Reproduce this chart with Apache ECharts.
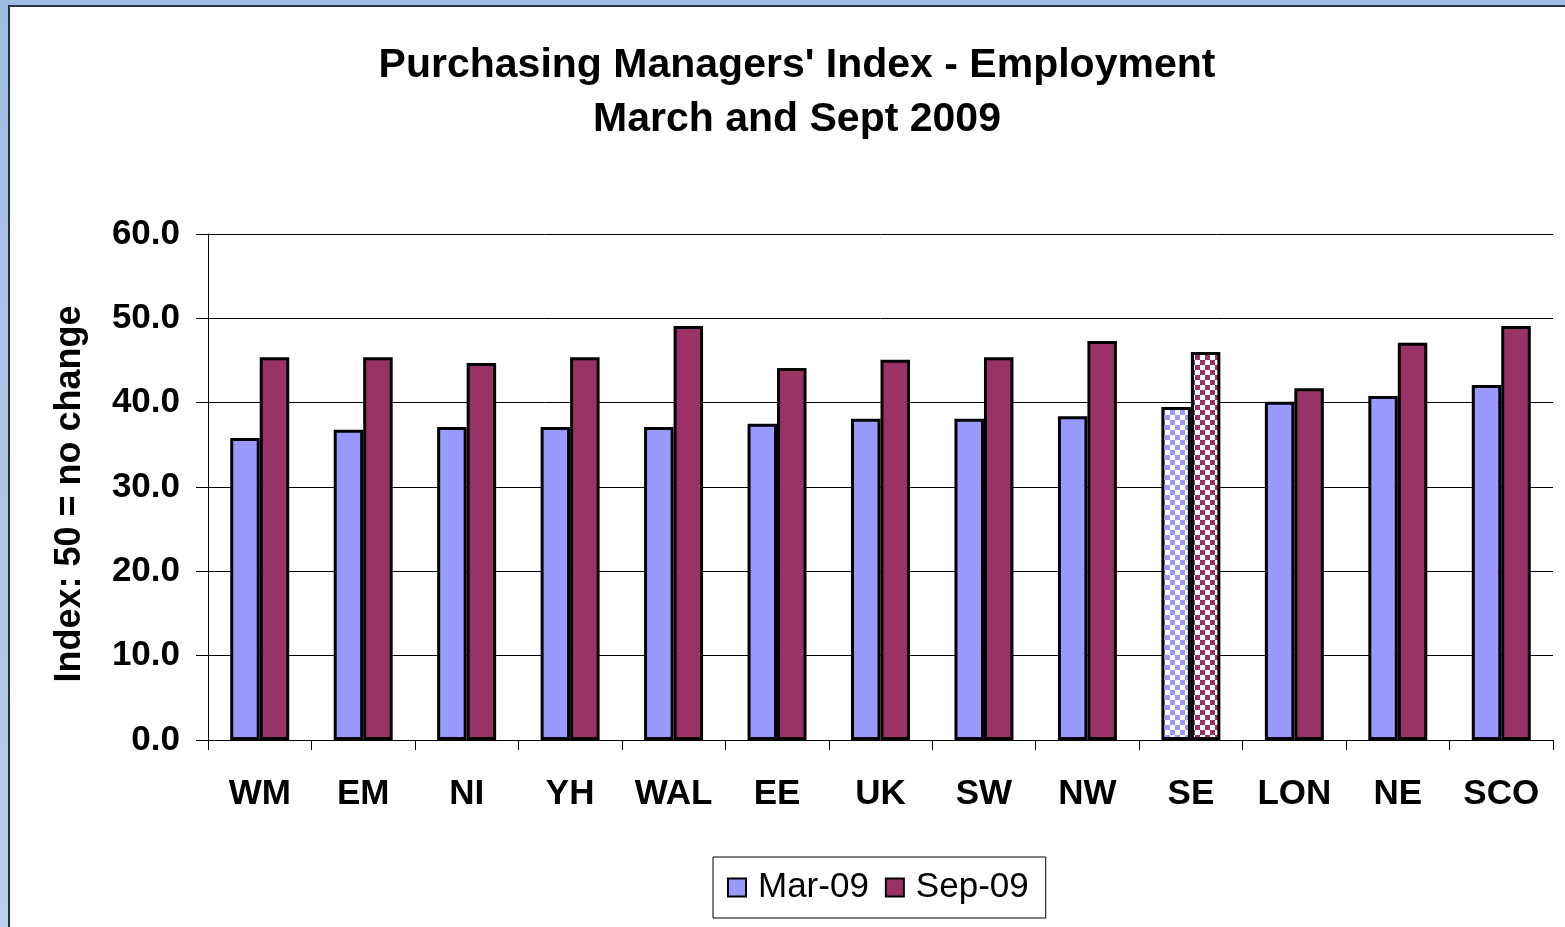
<!DOCTYPE html>
<html>
<head>
<meta charset="utf-8">
<script src="https://cdn.jsdelivr.net/npm/echarts@6/dist/echarts.min.js"></script>
<style>
  html, body { margin: 0; padding: 0; width: 1565px; height: 927px; overflow: hidden;
    background: linear-gradient(#9dbde3, #b9cfea); }
  #frame { position: absolute; left: 8px; top: 5px; width: 1570px; height: 940px;
    background: #fff; border: 2px solid #2c3340; }
  #main { position: absolute; left: 0; top: 0; width: 1565px; height: 927px; }
</style>
</head>
<body>
<div id="frame"></div>
<div id="main"></div>
<script>
// regions, left to right
var regions = ['WM', 'EM', 'NI', 'YH', 'WAL', 'EE', 'UK', 'SW', 'NW', 'SE', 'LON', 'NE', 'SCO'];
var mar09 = [35.8, 36.8, 37.1, 37.1, 37.1, 37.5, 38.1, 38.1, 38.4, 39.5, 40.1, 40.8, 42.1];
var sep09 = [45.4, 45.4, 44.7, 45.4, 49.1, 44.1, 45.1, 45.4, 47.3, 46.0, 41.7, 47.1, 49.1];
var yTicks = [0, 10, 20, 30, 40, 50, 60];
var hatched = 'SE';

// checker fill for the highlighted region
function checker(col) {
	var c = document.createElement('canvas');
	c.width = 10; c.height = 10;
	var g = c.getContext('2d');
	g.fillStyle = '#fff';
	g.fillRect(0, 0, 10, 10);
	g.fillStyle = col;
	g.fillRect(0, 0, 5, 5);
	g.fillRect(5, 5, 5, 5);
	return { image: c, repeat: 'repeat' };
}

function mk(vals, col) {
	return vals.map(function (v, i) {
		if (regions[i] == hatched) {
			return { value: v, itemStyle: { color: checker(col) } };
		}
		return v;
	});
}

var myChart = echarts.init(document.getElementById('main'));
var option = {
	backgroundColor: 'transparent',
	animation: false,
	textStyle: { fontFamily: 'Liberation Sans, Arial, sans-serif', color: '#000' },
	title: {
		text: "Purchasing Managers' Index - Employment\nMarch and Sept 2009",
		left: 797,
		top: 39,
		textAlign: 'center',
		padding: 0,
		textStyle: { fontSize: 41, fontWeight: 'bold', lineHeight: 54, color: '#000' }
	},
	legend: {
		left: 713,
		top: 857,
		padding: [13, 17, 13, 14],
		borderColor: '#000',
		borderWidth: 1,
		itemWidth: 18,
		itemHeight: 18,
		itemGap: 16,
		icon: 'rect',
		itemStyle: { borderColor: '#000', borderWidth: 2 },
		textStyle: { fontSize: 35, color: '#000', padding: [0, 0, 0, 7] },
		data: ['Mar-09', 'Sep-09']
	},
	grid: { left: 208, right: 12, top: 234, bottom: 187 },
	xAxis: {
		type: 'category',
		data: regions,
		axisLine: { lineStyle: { color: '#000', width: 1 } },
		axisTick: { show: true, length: 10, lineStyle: { color: '#000' } },
		axisLabel: { fontSize: 35, fontWeight: 'bold', color: '#000', margin: 37 }
	},
	yAxis: {
		type: 'value',
		min: yTicks[0],
		max: yTicks[yTicks.length - 1],
		interval: 10,
		name: 'Index: 50 = no change',
		nameLocation: 'middle',
		nameGap: 120,
		nameTextStyle: { fontSize: 36, fontWeight: 'bold', color: '#000', padding: [0, 14, 0, 0] },
		axisLine: { show: true, lineStyle: { color: '#000', width: 1 } },
		axisTick: { show: true, length: 12, lineStyle: { color: '#000' } },
		axisLabel: {
			fontSize: 35, fontWeight: 'bold', color: '#000', margin: 28,
			formatter: function (v) { return v.toFixed(1); }
		},
		splitLine: { show: true, lineStyle: { color: '#000', width: 1 } }
	},
	series: [
		{
			name: 'Mar-09',
			type: 'bar',
			data: mk(mar09, '#9999ff'),
			barGap: '0%',
			barCategoryGap: '43%',
			itemStyle: { color: '#9999ff', borderColor: '#000', borderWidth: 3 }
		},
		{
			name: 'Sep-09',
			type: 'bar',
			data: mk(sep09, '#993366'),
			barGap: '0%',
			barCategoryGap: '43%',
			itemStyle: { color: '#993366', borderColor: '#000', borderWidth: 3 }
		}
	]
};
if (option && typeof option === "object") {
	myChart.setOption(option, true);
}
</script>
</body>
</html>
